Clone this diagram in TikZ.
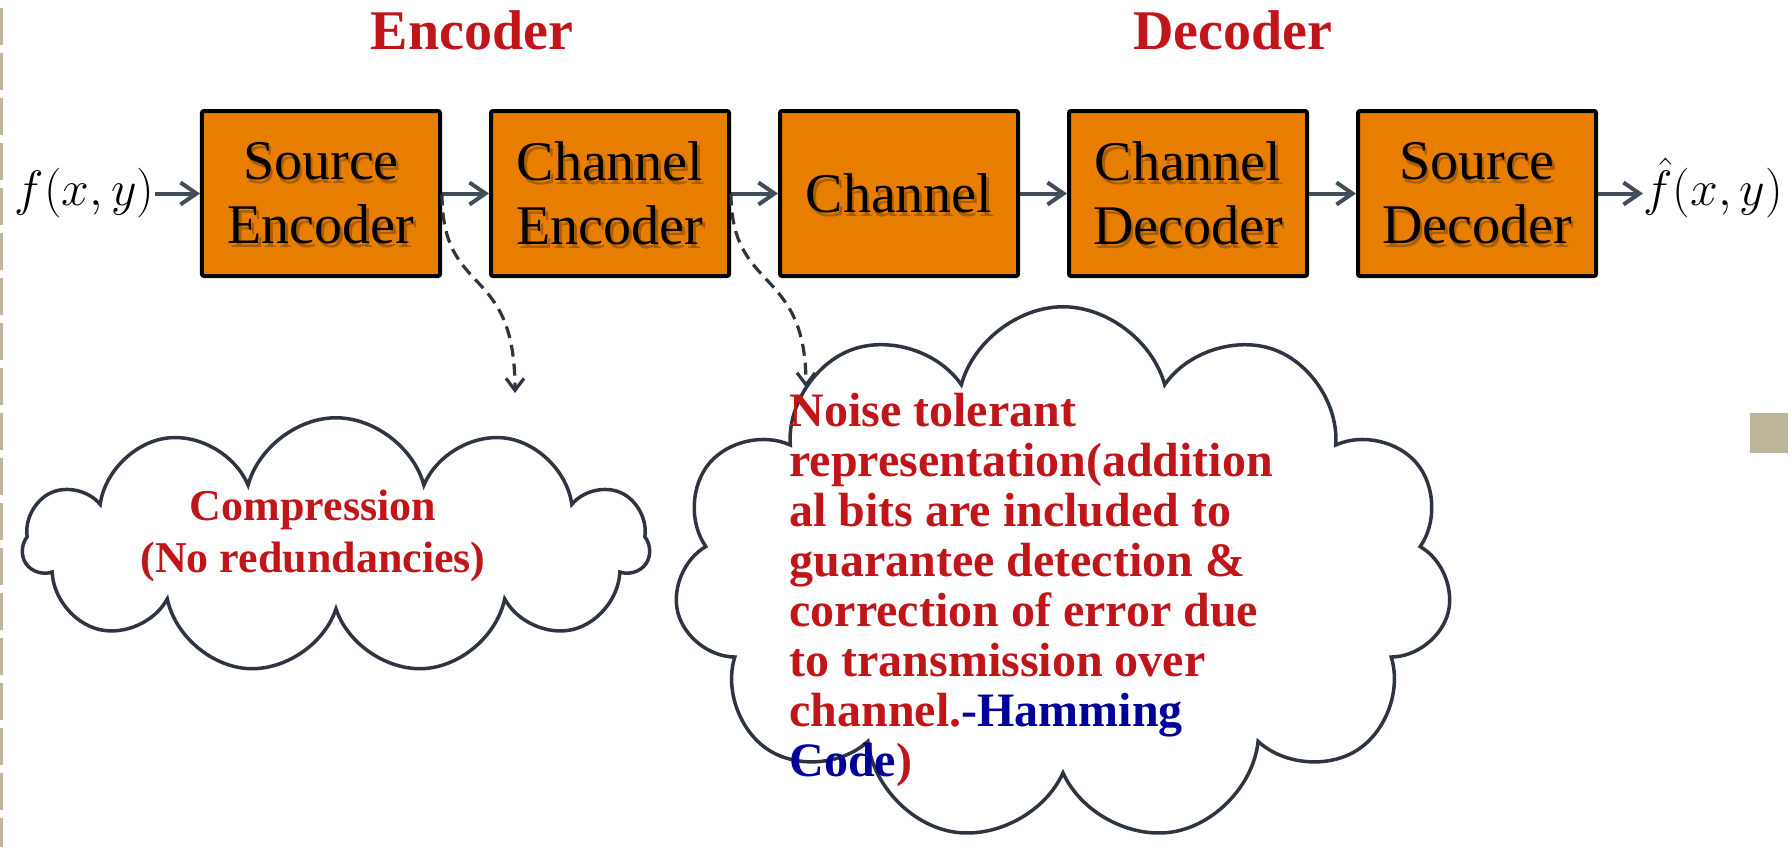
\documentclass[tikz,border=0pt]{standalone}
\usepackage{fontspec}
\setmainfont{Liberation Serif}
\usetikzlibrary{shapes.symbols, positioning, arrows.meta, calc}
\definecolor{boxorange}{RGB}{232,126,0}
\definecolor{arrowgray}{RGB}{66,77,90}
\definecolor{cloudgray}{RGB}{46,52,64}
\definecolor{textred}{RGB}{192,22,26}
\definecolor{textblue}{RGB}{0,0,153}
\definecolor{shadowbrown}{RGB}{110,62,8}
\definecolor{sidetan}{RGB}{190,181,156}
\tikzset{
  block/.style={rectangle, rounded corners=1pt, draw=black, line width=2pt, fill=boxorange, minimum width=119pt, minimum height=82.5pt, align=center, font=\fontsize{28}{32}\selectfont,
    path picture={\node[anchor=center, text=shadowbrown, opacity=0.5, align=center, font=\fontsize{28}{32}\selectfont] at ([xshift=1.2pt,yshift=-1.8pt]path picture bounding box.center) {#1};}},
  signal/.style={inner sep=0pt, font=\fontsize{24.88}{30}\selectfont, text height=18pt, text depth=6pt},
  title/.style={inner sep=0pt, text=textred, font=\bfseries\fontsize{28}{34}\selectfont},
  cloudbox/.style={cloud, cloud puffs=11, cloud ignores aspect, draw=cloudgray, line width=1.75pt, fill=white},
  arrow/.style={line width=2pt, draw=arrowgray, -{Straight Barb[length=8pt,width=11pt]}},
  dasharrow/.style={line width=1.6pt, draw=cloudgray, dash pattern=on 6pt off 3.5pt, -{Straight Barb[length=6pt,width=9pt]}}
}
\begin{document}
\begin{tikzpicture}[x=1pt, y=1pt, node distance=23.5pt]
  \useasboundingbox (-160.5,-326.75) rectangle (735.5,96.75);
  % borde punteado de la diapositiva y el cuadrito de la derecha
  \draw [sidetan, line width=1.5pt, dash pattern=on 18.5pt off 4pt] (-159.75,92.75) -- (-159.75,-326.75);
  \fill [sidetan] (714.5,-109.75) rectangle (733.5,-129.75);

  \node (srcenc) [block={Source\\Encoder}] {Source\\Encoder};
  \node (chenc) [block={Channel\\Encoder}, right=of srcenc] {Channel\\Encoder};
  \node (chan) [block=Channel, right=of chenc] {Channel};
  \node (chdec) [block={Channel\\Decoder}, right=of chan] {Channel\\Decoder};
  \node (srcdec) [block={Source\\Decoder}, right=of chdec] {Source\\Decoder};

  \node (fin) [signal, left=22.5pt of srcenc] {$f(x,y)$};
  \node (fout) [signal, right=22.5pt of srcdec] {$\hat{f}(x,y)$};

  \node (tenc) [title, above=29.5pt of srcenc, xshift=75.5pt] {Encoder};
  \node (tdec) [title, above=29.5pt of chdec, xshift=22.5pt] {Decoder};

  % nubes con las notas
  \node (comp) [cloudbox, minimum width=313pt, minimum height=128pt, below=69pt of srcenc, xshift=7.5pt] {};
  \node (comptxt) [text=textred, font=\bfseries\fontsize{22}{26}\selectfont, align=center] at ([xshift=-11.5pt, yshift=5pt]comp.center) {Compression\\(No redundancies)};
  \node (noise) [cloudbox, minimum width=389pt, minimum height=268pt, below=13.5pt of chan, xshift=82pt] {};
  \node (noisetxt) [anchor=north west, inner sep=0pt, text=textred, font=\bfseries\fontsize{24}{25}\selectfont, align=left] at ([xshift=-137pt, yshift=91pt]noise.center) {Noise tolerant\\representation(addition\\al bits are included to\\guarantee detection \&\\correction of error due\\to transmission over\\channel.\textcolor{textblue}{-Hamming}\\\textcolor{textblue}{Code})};

  \coordinate (tip1) at ([xshift=36.5pt, yshift=-99.75pt]srcenc.east);
  \coordinate (tip2) at ([xshift=37.5pt, yshift=-97pt]chenc.east);

  \draw [arrow] (fin) -- (srcenc);
  \draw [arrow] (srcenc) -- (chenc);
  \draw [arrow] (chenc) -- (chan);
  \draw [arrow] (chan) -- (chdec);
  \draw [arrow] (chdec) -- (srcdec);
  \draw [arrow] (srcdec) -- (fout);

  % flechas punteadas hacia las nubes
  \draw [dasharrow] (srcenc.east) .. controls +(0,-53) and +(0,66) .. (tip1);
  \draw [dasharrow] (chenc.east) .. controls +(0,-50) and +(0,61) .. (tip2);
\end{tikzpicture}
\end{document}
